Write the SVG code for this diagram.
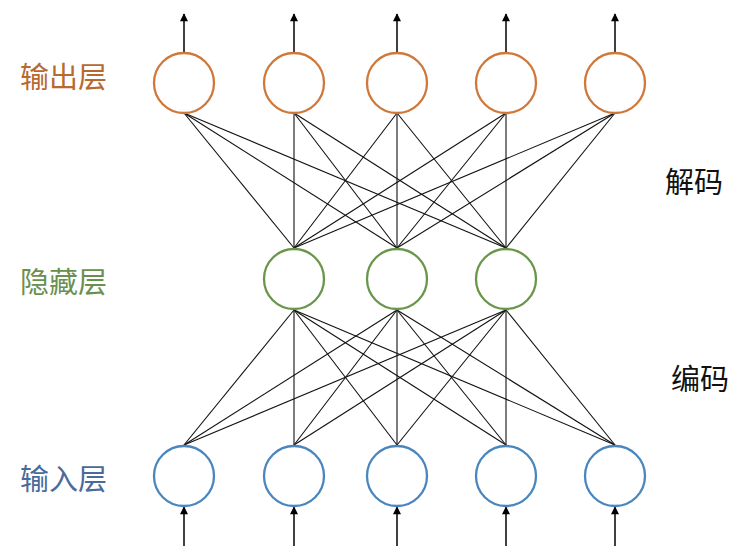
<svg xmlns="http://www.w3.org/2000/svg" width="742" height="557" viewBox="0 0 742 557">
<defs>
<marker id="ah" viewBox="0 0 10 10" refX="9" refY="5" markerWidth="9" markerHeight="8" markerUnits="userSpaceOnUse" orient="auto"><path d="M0,0 L10,5 L0,10 z" fill="#000"/></marker>
<style>
.lbl{font-family:"Noto Sans CJK SC","Noto Sans",sans-serif;font-size:29px}
.c{fill:#fff;stroke-width:2.3}
.out{stroke:#D0783A}
.hid{stroke:#6A964A}
.inp{stroke:#4A86BE}
.e{stroke:#111;stroke-width:1.1;fill:none}
.a{stroke:#000;stroke-width:1.5;fill:none;marker-end:url(#ah)}
</style>
</defs>
<rect width="742" height="557" fill="#fff"/>
<g id="connectors">
<g class="e">
<line x1="184" y1="113" x2="294" y2="248"/><line x1="184" y1="113" x2="397" y2="248"/><line x1="184" y1="113" x2="506" y2="248"/>
<line x1="294" y1="113" x2="294" y2="248"/><line x1="294" y1="113" x2="397" y2="248"/><line x1="294" y1="113" x2="506" y2="248"/>
<line x1="397" y1="113" x2="294" y2="248"/><line x1="397" y1="113" x2="397" y2="248"/><line x1="397" y1="113" x2="506" y2="248"/>
<line x1="506" y1="113" x2="294" y2="248"/><line x1="506" y1="113" x2="397" y2="248"/><line x1="506" y1="113" x2="506" y2="248"/>
<line x1="615" y1="113" x2="294" y2="248"/><line x1="615" y1="113" x2="397" y2="248"/><line x1="615" y1="113" x2="506" y2="248"/>
<line x1="294" y1="310" x2="184" y2="445"/><line x1="294" y1="310" x2="294" y2="445"/><line x1="294" y1="310" x2="397" y2="445"/><line x1="294" y1="310" x2="506" y2="445"/><line x1="294" y1="310" x2="615" y2="445"/>
<line x1="397" y1="310" x2="184" y2="445"/><line x1="397" y1="310" x2="294" y2="445"/><line x1="397" y1="310" x2="397" y2="445"/><line x1="397" y1="310" x2="506" y2="445"/><line x1="397" y1="310" x2="615" y2="445"/>
<line x1="506" y1="310" x2="184" y2="445"/><line x1="506" y1="310" x2="294" y2="445"/><line x1="506" y1="310" x2="397" y2="445"/><line x1="506" y1="310" x2="506" y2="445"/><line x1="506" y1="310" x2="615" y2="445"/>
</g>
<g class="a">
<line x1="184" y1="52" x2="184" y2="14"/><line x1="294" y1="52" x2="294" y2="14"/><line x1="397" y1="52" x2="397" y2="14"/><line x1="506" y1="52" x2="506" y2="14"/><line x1="615" y1="52" x2="615" y2="14"/>
<line x1="184" y1="546" x2="184" y2="507"/><line x1="294" y1="546" x2="294" y2="507"/><line x1="397" y1="546" x2="397" y2="507"/><line x1="506" y1="546" x2="506" y2="507"/><line x1="615" y1="546" x2="615" y2="507"/>
</g>
</g>
<g id="out1"><circle class="c out" cx="184" cy="83" r="30"/></g>
<g id="out2"><circle class="c out" cx="294" cy="83" r="30"/></g>
<g id="out3"><circle class="c out" cx="397" cy="83" r="30"/></g>
<g id="out4"><circle class="c out" cx="506" cy="83" r="30"/></g>
<g id="out5"><circle class="c out" cx="615" cy="83" r="30"/></g>
<g id="hid1"><circle class="c hid" cx="294" cy="279" r="30"/></g>
<g id="hid2"><circle class="c hid" cx="397" cy="279" r="30"/></g>
<g id="hid3"><circle class="c hid" cx="506" cy="279" r="30"/></g>
<g id="in1"><circle class="c inp" cx="184" cy="476" r="30"/></g>
<g id="in2"><circle class="c inp" cx="294" cy="476" r="30"/></g>
<g id="in3"><circle class="c inp" cx="397" cy="476" r="30"/></g>
<g id="in4"><circle class="c inp" cx="506" cy="476" r="30"/></g>
<g id="in5"><circle class="c inp" cx="615" cy="476" r="30"/></g>
<g id="labels">
<text class="lbl" x="20" y="88" fill="#B8692E">输出层</text>
<text class="lbl" x="20" y="293" fill="#6A9050">隐藏层</text>
<text class="lbl" x="20" y="490" fill="#4A6A9A">输入层</text>
<text class="lbl" x="665" y="193" fill="#111">解码</text>
<text class="lbl" x="671" y="390" fill="#111">编码</text>
</g>
</svg>
